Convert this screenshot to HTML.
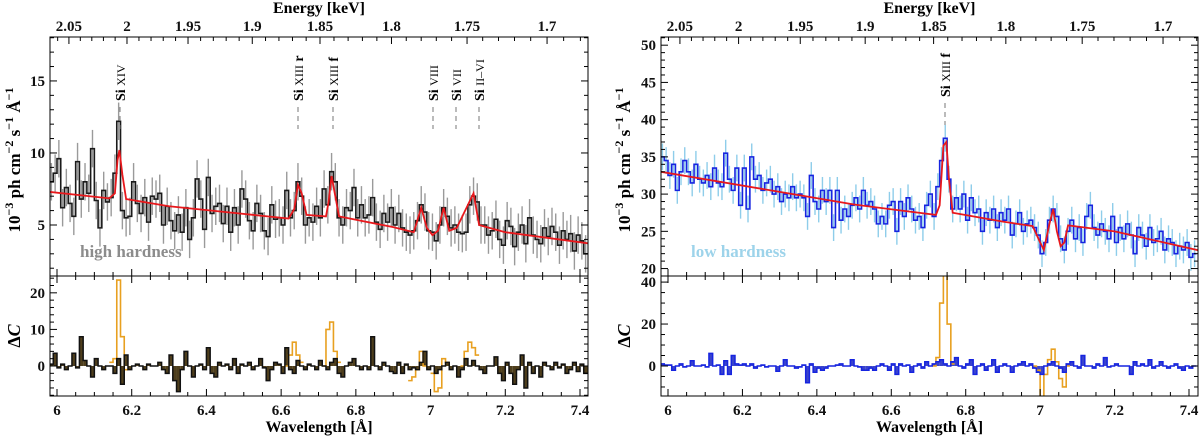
<!DOCTYPE html>
<html><head><meta charset="utf-8"><style>
html,body{margin:0;padding:0;background:#fff;}
svg{display:block;font-family:"Liberation Serif",serif;}
</style></head><body>
<svg id="chart" width="1200" height="437" viewBox="0 0 1200 437" xmlns="http://www.w3.org/2000/svg"></svg>
<script>
// ---------- data ----------
const binStart = 5.985, binWidth = 0.01;
const fluxHigh = [8.0,8.6,9.6,6.2,7.6,6.5,5.6,9.4,6.8,8.0,
7.2,10.3,6.7,4.8,7.4,6.6,6.9,8.6,12.2,6.0,
5.5,5.6,8.0,6.5,5.8,6.9,5.2,7.0,6.8,7.2,
5.0,6.3,5.3,4.6,5.7,4.5,6.2,4.0,5.5,8.2,
6.8,4.7,8.3,5.8,6.3,6.5,5.1,6.3,4.5,6.2,
5.0,7.5,6.8,5.3,4.6,6.5,5.8,4.6,4.2,6.4,
5.4,5.5,5.0,7.4,5.5,6.0,8.0,7.0,5.0,5.5,
5.2,6.3,5.5,7.5,6.4,8.7,8.0,5.5,5.0,6.2,
6.0,7.6,5.5,6.4,5.5,5.7,6.9,5.2,4.7,5.8,
5.2,6.2,5.0,5.8,4.8,4.5,4.3,4.6,5.3,6.4,
5.9,4.6,4.5,3.9,5.0,6.2,5.6,4.8,5.0,4.5,
4.4,4.5,6.4,7.0,6.6,5.0,5.0,4.3,4.6,5.4,
4.0,3.6,5.3,4.9,3.5,4.5,5.0,3.7,5.5,4.3,
4.0,3.7,4.8,4.2,4.9,4.5,3.6,4.6,4.0,4.4,
3.2,4.3,3.9,3.0];
const errHigh = 1.3;
const modelHighLam = [5.98,6.14,6.155,6.162,6.167,6.175,6.185,6.3,6.45,6.62,6.635,6.645,6.655,6.668,6.72,6.727,6.735,6.745,6.755,6.9,6.955,6.975,6.99,7.005,7.02,7.035,7.05,7.07,7.1,7.115,7.13,7.2,7.43];
const modelHighVal = [7.3,6.85,7.2,9.5,10.2,8.5,6.8,6.3,5.9,5.45,6.1,7.8,7.2,5.7,5.6,6.6,8.4,7.0,5.6,4.85,4.5,6.2,4.8,4.3,4.6,6.2,4.6,4.8,6.4,7.2,5.0,4.5,3.7];
const residHigh = [0.5,3.5,-0.5,0.5,-1,0,3.5,-0.5,8,1.5,
0,-3,2,0,-1,0,0,-2,2,-5,
3,-1,0,0.5,0,-1,0.5,0,0,1,
-1,-2,3,-4,-7,-1,4,0,-3,0,
0.5,-1,5,-2,-3,1,0,0.5,-1,2,
-2,0.5,0,1,-1,0,2,-0.5,-4,-1,
1,0.5,-2,5,-1,-2,1.5,0,-1,0.5,
0,-1,1.5,0,-1,1,2,-2,-3,0,
1,2,0,-1,0,-1,8,0,-1,1,
0,-1.5,-2,1,-2,0.5,-1,-0.5,-1,1,
4,-1,0,-2,-1,0,1,-1,0,-3,
-1,2,0,1.5,0,-1,-2,0,0,2.5,
-2,-4,1,-2,-5,-1,3,-6,1,-2,
0,-3,1,0,-1,1,-0.5,0.5,-2,-1,
1,-1.5,0.5,-2];
const lineResHighStart = [16,63,73,96,102,110];
const lineResHighVals = [[1,2,23.5,8,-1],[0,3,6.5,3,1],[0,10,12,4,1],[-4,-3,-1,4,0],[-2,-7,-6,2,1],[0,4,6.5,5,3]];

const fluxLow = [35.0,34.5,32.5,34.0,30.5,33.0,34.5,33.0,31.5,34.0,
32.0,31.5,32.5,31.0,33.5,31.5,31.0,35.5,32.0,30.5,
33.5,28.5,33.5,28.0,35.0,32.0,32.5,30.5,31.5,32.0,
30.0,31.0,29.0,30.0,29.5,31.0,29.5,30.0,29.5,27.0,
32.5,29.0,28.0,30.5,29.0,30.5,25.5,30.5,26.5,28.0,
27.0,28.5,29.5,28.0,30.5,28.5,29.0,28.0,26.0,27.0,
26.0,28.5,29.0,25.0,29.0,27.0,29.5,28.0,26.5,27.0,
25.5,28.5,30.0,27.0,31.0,34.5,37.5,32.0,28.0,29.5,
28.0,30.0,26.5,29.5,27.5,28.0,25.0,27.5,26.5,28.0,
25.5,27.5,26.5,28.0,24.5,26.0,27.5,25.0,26.0,26.5,
25.5,24.5,22.0,23.5,26.5,28.0,27.0,24.0,22.5,25.0,
26.5,24.0,25.5,23.5,27.0,28.5,25.5,24.5,26.0,25.0,
24.0,27.0,23.5,25.5,24.0,26.0,24.5,22.0,25.5,24.5,
23.0,25.5,23.5,24.0,25.0,22.5,24.0,23.5,22.0,23.0,
22.5,23.5,21.5,22.0];
const errLow = 1.8;
const modelLowLam = [5.98,6.3,6.5,6.72,6.73,6.74,6.748,6.755,6.765,6.9,6.98,7.0,7.01,7.025,7.035,7.045,7.055,7.065,7.075,7.2,7.43];
const modelLowVal = [33.0,30.3,28.6,27.2,28.5,36.5,37.0,32.0,27.5,26.3,25.7,23.5,22.5,26.0,28.0,25.0,23.0,23.5,25.8,25.0,22.4];
const residLow = [1,0.5,0.5,-2,0,1,-0.5,0,2.5,0,
0,0.5,-0.5,6,0,0.5,-4,2.5,-4,5,
1,0.5,1,0,1,-1,0,0.5,-0.5,0,
0,-2.5,0,3,0,0,-1,-0.5,0.5,-8,
1,-3,-1,-2,-1,0,0,0.5,1,0,
0,3,0,-0.5,-2,-2,-1,-2,0,1,
0,-2,1,-4,1,0,0.5,-3,0,1,
-1,2,0,1,2,3,1,0,2,4,
0,-1,1,3,-4,0,1,-2,0,3,
-3,0,1,0,-3,0,1,2,0,1,
-1,-3,-4,0,1,2,0,-1,-3,1,
2,0,-1,5,0,0,-1,1,0,4,
-0.5,0,1,0,0,0,-4,2,0,1,
0,3,-1,0,2,0,-1,0,1,-1,
-2,0,-1,0];
const lineResLowStart = [73,100];
const lineResLowVals = [[0,4,30,48,20,1],[0,-2,-20,-4,3,8,2,-6,-10,0]];

const energyTicks = [2.05,2,1.95,1.9,1.85,1.8,1.75,1.7];
const waveTicks = [6,6.2,6.4,6.6,6.8,7,7.2,7.4];
const yTicksHigh = [5,10,15];
const yTicksLow = [20,25,30,35,40,45,50];
const rTicksHigh = [0,10,20];
const rTicksLow = [0,20,40];

// ---------- helpers ----------
const NS = "http://www.w3.org/2000/svg";
const svg = document.getElementById('chart');
function mk(tag, attrs, parent){
  const e = document.createElementNS(NS, tag);
  for (const k in attrs) e.setAttribute(k, attrs[k]);
  (parent||svg).appendChild(e);
  return e;
}
function lin(d0,d1,r0,r1){return v=>r0+(v-d0)*(r1-r0)/(d1-d0);}

function panel(cfg){
  const g = mk('g',{});
  
  
  const X = lin(6,7.4,cfg.x6,cfg.x74);
  const Y = lin(cfg.mv0,cfg.mv1,cfg.my0,cfg.my1);
  const R = lin(cfg.rv0,cfg.rv1,cfg.ry0,cfg.ry1);
  const XE = lam=>cfg.ex0+cfg.es*(lam-6.048);
  const L=cfg.L, Rt=cfg.R, T=37, M=276, B=396;
  const cid = cfg.name+'-clip', rid = cfg.name+'-rclip';
  const defs = mk('defs',{},g);
  const c1 = mk('clipPath',{id:cid},defs); mk('rect',{x:L,y:T,width:Rt-L,height:M-T},c1);
  const c2 = mk('clipPath',{id:rid},defs); mk('rect',{x:L,y:M,width:Rt-L,height:B-M},c2);

  const eg = mk('g',{'clip-path':`url(#${cid})`},g);
  
  
  cfg.flux.forEach((v,i)=>{
    const x = X(binStart+binWidth*i);
    mk('line',{x1:x,x2:x,y1:Y(v-cfg.err),y2:Y(v+cfg.err),stroke:cfg.errColor,'stroke-width':1.4},eg);
  });
  let d='';
  cfg.flux.forEach((v,i)=>{
    const xa = X(binStart+binWidth*(i-0.5)), xb = X(binStart+binWidth*(i+0.5));
    d += (i===0?`M${xa},${Y(v)}`:`V${Y(v)}`) + `H${xb}`;
  });
  const dp = mk('path',{d:d,fill:'none',stroke:cfg.dataColor,'stroke-width':1.6,'clip-path':`url(#${cid})`},g);
  
  
  let md = cfg.mLam.map((l,i)=>(i?'L':'M')+X(l)+','+Y(cfg.mVal[i])).join('');
  const mp = mk('path',{d:md,fill:'none',stroke:'#e8181c','stroke-width':1.8,'clip-path':`url(#${cid})`},g);
  
  

  const rg = mk('g',{'clip-path':`url(#${rid})`},g);
  
  
  let rd='';
  cfg.resid.forEach((v,i)=>{
    const xa = X(binStart+binWidth*(i-0.5)), xb = X(binStart+binWidth*(i+0.5));
    const y0=R(0), y1=R(v);
    mk('rect',{x:xa,y:Math.min(y0,y1),width:xb-xa,height:Math.abs(y1-y0),fill:cfg.resFill},rg);
    rd += (i===0?`M${xa},${y1}`:`V${y1}`) + `H${xb}`;
  });
  cfg.lrStart.forEach((s,k)=>{
    let od='';
    cfg.lrVals[k].forEach((v,j)=>{
      const i=s+j;
      const xa = X(binStart+binWidth*(i-0.5)), xb = X(binStart+binWidth*(i+0.5));
      od += (j===0?`M${xa},${R(v)}`:`V${R(v)}`) + `H${xb}`;
    });
    const op = mk('path',{d:od,fill:'none',stroke:'#e8a020','stroke-width':1.6},rg);
    
    
  });
  mk('path',{d:rd,fill:'none',stroke:cfg.resStroke,'stroke-width':1.5},rg);

  const ax = mk('g',{stroke:'#000','stroke-width':1,fill:'none'},g);
  
  
  mk('rect',{x:L,y:T,width:Rt-L,height:B-T},ax);
  mk('line',{x1:L,x2:Rt,y1:M,y2:M},ax);
  for(let w=5.95; w<=7.46; w+=0.05){
    const x=X(w); if(x<L||x>Rt) continue;
    const major = Math.abs(w*5-Math.round(w*5))<1e-6;
    const len = major?7:4;
    mk('line',{x1:x,x2:x,y1:B,y2:B-len},ax);
    mk('line',{x1:x,x2:x,y1:M-len,y2:M+len},ax);
  }
  for(let e=1.68; e<=2.08; e+=0.01){
    const x=XE(12.398/e); if(x<L||x>Rt) continue;
    const major = Math.abs(e*20-Math.round(e*20))<1e-6;
    mk('line',{x1:x,x2:x,y1:T,y2:T+(major?7:4)},ax);
  }
  for(let v=Math.ceil(cfg.mv1); v<=cfg.mv0; v+=1){
    const y=Y(v), major=v%5===0, len=major?7:4;
    mk('line',{x1:L,x2:L+len,y1:y,y2:y},ax);
    mk('line',{x1:Rt,x2:Rt-len,y1:y,y2:y},ax);
  }
  for(let v=Math.ceil(cfg.rv1/cfg.rMinor)*cfg.rMinor; v<=cfg.rv0; v+=cfg.rMinor){
    const y=R(v), major=v%cfg.rMajor===0, len=major?7:4;
    mk('line',{x1:L,x2:L+len,y1:y,y2:y},ax);
    mk('line',{x1:Rt,x2:Rt-len,y1:y,y2:y},ax);
  }
  const tl = mk('g',{'font-size':15,'font-weight':'bold',fill:'#111'},g);
  
  
  waveTicks.forEach(w=>{const t=mk('text',{x:X(w),y:415,'text-anchor':'middle'},tl); t.textContent=String(w);});
  energyTicks.forEach(e=>{const t=mk('text',{x:XE(12.398/e),y:31,'text-anchor':'middle'},tl); t.textContent=String(e);});
  cfg.yTicks.forEach(v=>{const t=mk('text',{x:L-5,y:Y(v)+5,'text-anchor':'end'},tl); t.textContent=String(v);});
  cfg.rTicks.forEach(v=>{const t=mk('text',{x:L-5,y:R(v)+5,'text-anchor':'end'},tl); t.textContent=String(v);});

  const xt = mk('text',{x:(L+Rt)/2,y:432,'text-anchor':'middle','font-size':16,'font-weight':'bold'},g);
   
  xt.textContent='Wavelength [Å]';
  const et = mk('text',{x:(L+Rt)/2,y:13,'text-anchor':'middle','font-size':16,'font-weight':'bold'},g);
   
  et.textContent='Energy [keV]';
  const yt = mk('text',{transform:`translate(${cfg.ytx},160) rotate(-90)`,'text-anchor':'middle','font-size':17,'font-weight':'bold'},g);
   
  yt.innerHTML='10<tspan dy="-7" font-size="12">−3</tspan><tspan dy="7"> ph cm</tspan><tspan dy="-7" font-size="12">−2</tspan><tspan dy="7"> s</tspan><tspan dy="-7" font-size="12">−1</tspan><tspan dy="7"> Å</tspan><tspan dy="-7" font-size="12">−1</tspan>';
  const rt = mk('text',{transform:`translate(${cfg.ytx},336) rotate(-90)`,'text-anchor':'middle','font-size':18,'font-weight':'bold'},g);
   
  rt.innerHTML='Δ<tspan font-style="italic">C</tspan>';
  const st = mk('text',{x:cfg.stateX,y:257,'font-size':17,'font-weight':'bold',fill:cfg.stateColor},g);
   
  st.textContent=cfg.state;

  cfg.lines.forEach(ln=>{
    const lg = mk('g',{},g);
    
    
    mk('line',{x1:ln.x,x2:ln.x,y1:ln.yb+6,y2:ln.yb+28,stroke:'#777','stroke-width':1,'stroke-dasharray':'5,4'},lg);
    const t = mk('text',{transform:`translate(${ln.x+5},${ln.yb}) rotate(-90)`,'font-size':14,'font-weight':'bold'},lg);
    t.innerHTML='Si <tspan font-size="12" font-weight="normal">'+ln.ion+'</tspan>'+(ln.sfx?' '+ln.sfx:'');
  });
}

panel({name:'high-hardness-panel',L:50,R:588,x6:57,x74:580,ex0:69,es:384,
  mv0:18.05,mv1:1.46,my0:37,my1:276, rv0:24.6,rv1:-8.2,ry0:276,ry1:396, rMinor:2,rMajor:10,
  flux:fluxHigh,err:errHigh,errColor:'#9a9a9a',dataColor:'#1a1a1a',mLam:modelHighLam,mVal:modelHighVal,
  resid:residHigh,resFill:'#4e3e1c',resStroke:'#111',lrStart:lineResHighStart,lrVals:lineResHighVals,
  yTicks:yTicksHigh,rTicks:rTicksHigh,ytx:20,state:'high hardness',stateColor:'#8c8c8c',stateX:80,
  lines:[{x:120,yb:101,ion:'XIV'},{x:298,yb:101,ion:'XIII',sfx:'r'},{x:333,yb:101,ion:'XIII',sfx:'f'},
         {x:433,yb:101,ion:'VIII'},{x:456,yb:101,ion:'VII'},{x:479,yb:101,ion:'II–VI'}]});
panel({name:'low-hardness-panel',L:661,R:1198,x6:668,x74:1189,ex0:680,es:388,
  mv0:51.1,mv1:19.0,my0:37,my1:276, rv0:42.9,rv1:-14.3,ry0:276,ry1:396, rMinor:5,rMajor:20,
  flux:fluxLow,err:errLow,errColor:'#8ecdea',dataColor:'#1624e0',mLam:modelLowLam,mVal:modelLowVal,
  resid:residLow,resFill:'#3a44cc',resStroke:'#1624e0',lrStart:lineResLowStart,lrVals:lineResLowVals,
  yTicks:yTicksLow,rTicks:rTicksLow,ytx:630,state:'low hardness',stateColor:'#9dd3ea',stateX:691,
  lines:[{x:945,yb:97,ion:'XIII',sfx:'f'}]});
</script>
</body></html>
